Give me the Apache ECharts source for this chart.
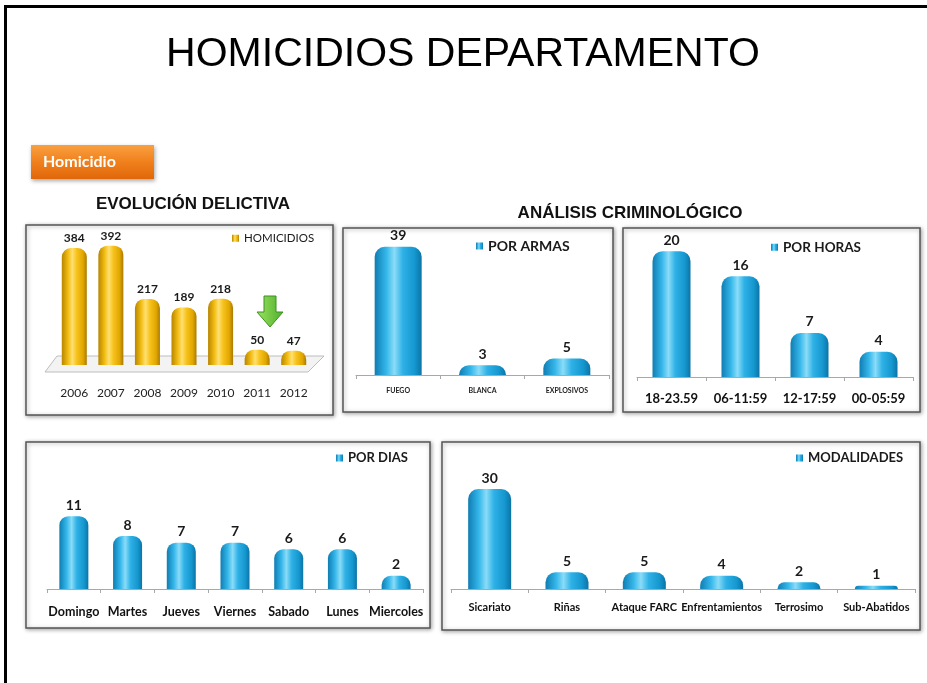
<!DOCTYPE html>
<html>
<head>
<meta charset="utf-8">
<script src="https://cdn.jsdelivr.net/npm/echarts@6/dist/echarts.min.js"></script>
<style>
html,body{margin:0;padding:0;background:#fff;}
#c{width:927px;height:683px;}
</style>
</head>
<body>
<div id="c"></div>
<script>
// ---- data ----
const years = ['2006','2007','2008','2009','2010','2011','2012'];
const homicidios = [384,392,217,189,218,50,47];
const armasCats = ['FUEGO','BLANCA','EXPLOSIVOS'];
const armasVals = [39,3,5];
const horasCats = ['18-23.59','06-11:59','12-17:59','00-05:59'];
const horasVals = [20,16,7,4];
const diasCats = ['Domingo','Martes','Jueves','Viernes','Sabado','Lunes','Miercoles'];
const diasVals = [11,8,7,7,6,6,2];
const modCats = ['Sicariato','Riñas','Ataque FARC','Enfrentamientos','Terrosimo','Sub-Abatidos'];
const modVals = [30,5,5,4,2,1];

// ---- styles ----
const blue = {type:'linear',x:0,y:0,x2:1,y2:0,colorStops:[
  {offset:0,color:'#0f7db2'},{offset:0.25,color:'#35b7ea'},{offset:0.42,color:'#8adcf8'},
  {offset:0.6,color:'#2eb1e6'},{offset:0.85,color:'#1597cf'},{offset:1,color:'#0c74a6'}]};
const gold = {type:'linear',x:0,y:0,x2:1,y2:0,colorStops:[
  {offset:0,color:'#b88500'},{offset:0.25,color:'#f2bd12'},{offset:0.42,color:'#ffe070'},
  {offset:0.6,color:'#f7c21c'},{offset:0.85,color:'#e1a600'},{offset:1,color:'#a97a00'}]};
const F = 'Lato, "Open Sans", sans-serif';

function xAx(grid, cats, opt){
  return Object.assign({
    type:'category', gridIndex:grid, data:cats,
    axisLine:{show:true,lineStyle:{color:'#a8a8a8',width:1}},
    axisTick:{show:true,length:4,lineStyle:{color:'#a8a8a8'}},
    axisLabel:{color:'#111',fontFamily:F,fontWeight:'bold',fontSize:12,margin:14,interval:0}
  }, opt||{});
}
function yAx(grid, max){
  return {type:'value', gridIndex:grid, min:0, max:max, show:false, splitLine:{show:false}};
}
function bar(name, idx, vals, width, color, fs, r){
  return {
    name:name, type:'bar', xAxisIndex:idx, yAxisIndex:idx, data:vals, barWidth:width,
    itemStyle:{color:color, borderRadius:[r,r,0,0]},
    label:{show:true, position:'top', distance:4, color:'#1a1a1a', fontFamily:F, fontWeight:'bold', fontSize:fs}
  };
}
function leg(name, left, cy, fs, bold){
  return {
    data:[name], left:left, top:cy - fs/2, padding:0, itemWidth:7, itemHeight:7, icon:'rect',
    selectedMode:false,
    textStyle:{color:'#1a1a1a', fontFamily:F, fontWeight:bold?'bold':'normal', fontSize:fs}
  };
}
function box(x,y,w,h){
  return {type:'rect', shape:{x:x,y:y,width:w,height:h}, z:-10,
    style:{fill:'#fff', stroke:'#555', lineWidth:1.5, shadowBlur:4, shadowColor:'rgba(0,0,0,0.35)', shadowOffsetX:1, shadowOffsetY:1}};
}

const option = {
  animation:false,
  backgroundColor:'#fff',
  grid:[
    {left:56, width:256, top:228, height:137},
    {left:356, width:253, top:227, height:148},
    {left:637, width:276, top:226, height:151},
    {left:47, width:376, top:483, height:106},
    {left:451, width:464, top:469, height:120}
  ],
  xAxis:[
    xAx(0, years, {axisLine:{show:false}, axisTick:{show:false},
      axisLabel:{color:'#222',fontFamily:F,fontWeight:'normal',fontSize:12,margin:22,interval:0}}),
    xAx(1, armasCats, {axisLabel:{color:'#222',fontFamily:F,fontWeight:'bold',fontSize:7,margin:12,interval:0}}),
    xAx(2, horasCats, {axisLabel:{color:'#111',fontFamily:F,fontWeight:'bold',fontSize:13,margin:15,interval:0}}),
    xAx(3, diasCats, {axisLabel:{color:'#111',fontFamily:F,fontWeight:'bold',fontSize:12.5,margin:16,interval:0}}),
    xAx(4, modCats, {axisLabel:{color:'#111',fontFamily:F,fontWeight:'bold',fontSize:11,margin:13,interval:0}})
  ],
  yAxis:[ yAx(0,450), yAx(1,45), yAx(2,24), yAx(3,16), yAx(4,36) ],
  legend:[
    leg('HOMICIDIOS', 232, 238, 11.5, false),
    leg('POR ARMAS', 476, 246, 14, true),
    leg('POR HORAS', 771, 247, 13.5, true),
    leg('POR DIAS', 336, 458, 13, true),
    leg('MODALIDADES', 796, 458, 13, true)
  ],
  series:[
    bar('HOMICIDIOS', 0, homicidios, 25, gold, 12, 9),
    bar('POR ARMAS', 1, armasVals, 47, blue, 14, 10),
    bar('POR HORAS', 2, horasVals, 38, blue, 14, 10),
    bar('POR DIAS', 3, diasVals, 29, blue, 14, 9),
    bar('MODALIDADES', 4, modVals, 43, blue, 14, 10)
  ],
  graphic:[
    // slide border
    {type:'rect', shape:{x:4,y:5,width:930,height:3}, style:{fill:'#000'}, z:-20},
    {type:'rect', shape:{x:4,y:5,width:3,height:690}, style:{fill:'#000'}, z:-20},
    // title
    {type:'text', x:463, y:55, style:{text:'HOMICIDIOS DEPARTAMENTO', fill:'#000', font:'41px "Liberation Sans", Arial, sans-serif', textAlign:'center', textVerticalAlign:'middle'}},
    // orange tag
    {type:'rect', shape:{x:31,y:145,width:123,height:34}, style:{
      fill:{type:'linear',x:0,y:0,x2:0,y2:1,colorStops:[{offset:0,color:'#f9a040'},{offset:0.5,color:'#f0801c'},{offset:1,color:'#e0670a'}]},
      shadowBlur:4, shadowColor:'rgba(0,0,0,0.35)', shadowOffsetX:1, shadowOffsetY:2}},
    {type:'text', x:43, y:162, style:{text:'Homicidio', fill:'#fff', font:'bold 16px Lato, sans-serif', textVerticalAlign:'middle'}},
    // section titles
    {type:'text', x:193, y:204, style:{text:'EVOLUCIÓN DELICTIVA', fill:'#111', font:'bold 17px "Liberation Sans", Arial, sans-serif', textAlign:'center', textVerticalAlign:'middle'}},
    {type:'text', x:630, y:213, style:{text:'ANÁLISIS CRIMINOLÓGICO', fill:'#111', font:'bold 17px "Liberation Sans", Arial, sans-serif', textAlign:'center', textVerticalAlign:'middle'}},
    // boxes
    box(26,225,307,190),
    box(343,228,270,184),
    box(623,228,297,184),
    box(26,442,404,186),
    box(442,442,478,188),
    // 3D floor for chart 1
    {type:'polygon', shape:{points:[[45,372],[57,356],[324,356],[308,372]]}, z:-5,
      style:{fill:'#f3f3f3', stroke:'#bdbdbd', lineWidth:1}},
    // green arrow
    {type:'polygon', shape:{points:[[264,296],[276,296],[276,312],[283,312],[270,327],[257,312],[264,312]]}, z:5,
      style:{fill:{type:'linear',x:0,y:0,x2:1,y2:0,colorStops:[{offset:0,color:'#9be35e'},{offset:1,color:'#4fae2c'}]}, stroke:'#3f8f22', lineWidth:1}}
  ]
};
const chart = echarts.init(document.getElementById('c'), null, {renderer:'canvas'});
chart.setOption(option);
</script>
</body>
</html>
